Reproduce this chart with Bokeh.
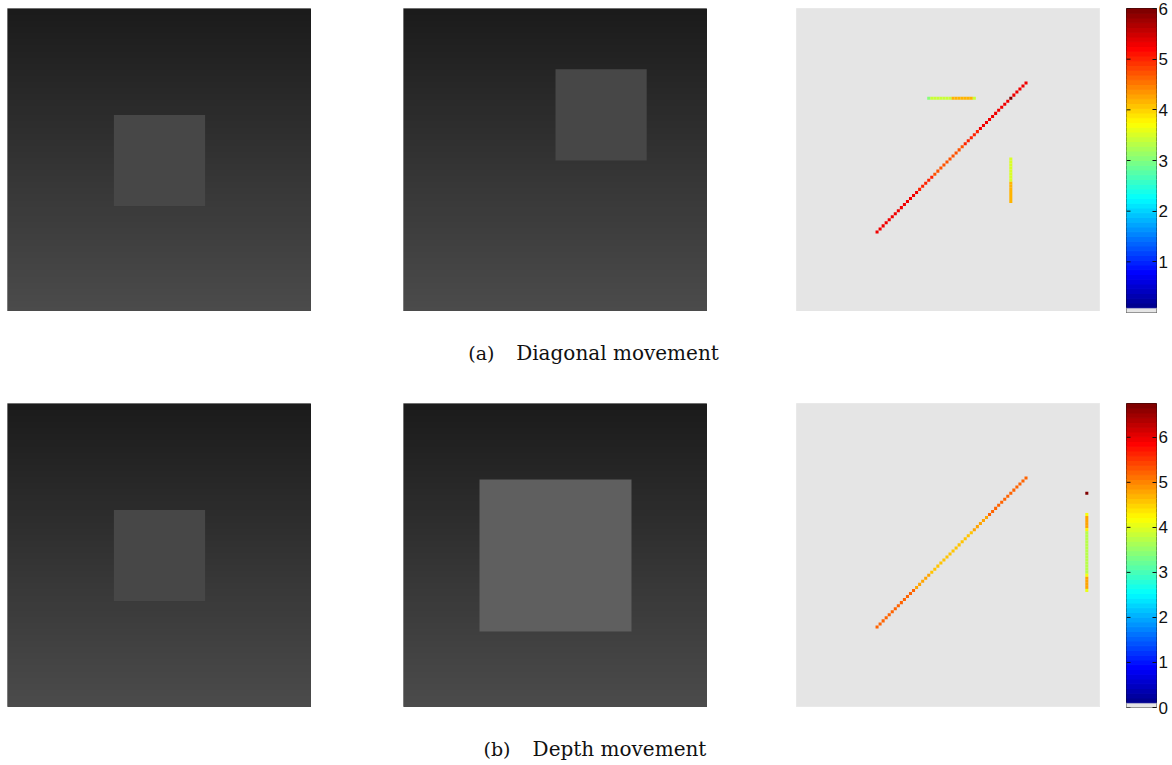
import numpy as np
from bokeh.plotting import figure
from bokeh.layouts import row, column
from bokeh.models import Spacer, Range1d, LinearAxis, FixedTicker, Label, ColumnDataSource
from bokeh.transform import linear_cmap
from bokeh.embed import file_html
from bokeh.resources import INLINE

GRID = 100          # every frame / flow map is GRID x GRID pixels
PANEL = 304         # on-screen size of one frame

# grey level (0-255) of the background ramp, bottom row and top row
BG_BOTTOM = 75
BG_TOP = 27

# moving square of each input frame: left, right, bottom, top (pixel indices)
SQ_A1 = [35, 65, 35, 65]
SQ_A2 = [50, 80, 50, 80]
SQ_B1 = [35, 65, 35, 65]
SQ_B2 = [25, 75, 25, 75]
# grey level of each square
SQ_A1_GREY = 71
SQ_A2_GREY = 71
SQ_B1_GREY = 71
SQ_B2_GREY = 95

# ---- (a) diagonal movement: flow magnitude of the detected pixels ----
A_DIAG_X = [26, 27, 28, 29, 30, 31, 32, 33, 34, 35, 36, 37, 38, 39, 40, 41, 42, 43, 44, 45,
            46, 47, 48, 49, 50, 51, 52, 53, 54, 55, 56, 57, 58, 59, 60, 61, 62, 63, 64, 65,
            66, 67, 68, 69, 70, 71, 72, 73, 74, 75]
A_DIAG_Y = A_DIAG_X
A_DIAG_V = [5.3, 5.3, 5.3, 5.3, 5.3, 5.3, 5.3, 5.3, 5.3, 5.3, 5.3, 5.3, 5.3, 5.3,
            5.0, 5.0, 5.0, 5.0, 5.0,
            4.75, 4.75, 4.75, 4.75, 4.75, 4.75, 4.75, 4.75, 4.75, 4.75,
            5.0, 5.0, 5.0, 5.0, 5.0,
            5.3, 5.3, 5.3, 5.3, 5.3, 5.3, 5.3, 5.3, 5.3, 5.3,
            6.0,
            5.3, 5.3, 5.3, 5.3, 5.3]
A_HORIZ_X = [43, 44, 45, 46, 47, 48, 49, 50, 51, 52, 53, 54, 55, 56, 57, 58]
A_HORIZ_Y = [70, 70, 70, 70, 70, 70, 70, 70, 70, 70, 70, 70, 70, 70, 70, 70]
A_HORIZ_V = [3.0, 3.45, 3.45, 3.45, 3.45, 3.45, 3.45, 3.45,
             4.15, 4.15, 4.15, 4.15, 4.15, 4.15, 4.15, 3.45]
A_VERT_X = [70, 70, 70, 70, 70, 70, 70, 70, 70, 70, 70, 70, 70, 70, 70]
A_VERT_Y = [50, 49, 48, 47, 46, 45, 44, 43, 42, 41, 40, 39, 38, 37, 36]
A_VERT_V = [3.55, 3.55, 3.55, 3.55, 3.55, 3.55, 3.55, 3.55,
            4.15, 4.15, 4.15, 4.15, 4.15, 4.15, 4.15]
A_LOW, A_HIGH = 0.0, 6.0
A_TICKS = [1, 2, 3, 4, 5, 6]

# ---- (b) depth movement ----
B_DIAG_X = A_DIAG_X
B_DIAG_Y = A_DIAG_X
B_DIAG_V = [5.2, 5.2, 5.2, 5.2, 5.2, 5.2, 5.2, 5.2, 5.2, 5.2, 5.2, 5.2, 5.2,
            4.85, 4.85, 4.85, 4.85, 4.85,
            4.6, 4.6, 4.6, 4.6, 4.6, 4.6, 4.6, 4.6, 4.6, 4.6, 4.6, 4.6, 4.6, 4.6,
            4.85, 4.85, 4.85, 4.85, 4.85,
            5.2, 5.2, 5.2, 5.2, 5.2, 5.2, 5.2, 5.2, 5.2, 5.2, 5.2, 5.2, 5.2]
B_SPOT_X = [95]
B_SPOT_Y = [70]
B_SPOT_V = [6.75]
B_VERT_X = [95, 95, 95, 95, 95, 95, 95, 95, 95, 95, 95, 95, 95,
            95, 95, 95, 95, 95, 95, 95, 95, 95, 95, 95, 95, 95]
B_VERT_Y = [63, 62, 61, 60, 59, 58, 57, 56, 55, 54, 53, 52, 51,
            50, 49, 48, 47, 46, 45, 44, 43, 42, 41, 40, 39, 38]
B_VERT_V = [4.2, 4.75, 4.75, 4.75, 4.75, 4.3,
            3.7, 3.7, 3.7, 3.7, 3.7, 3.7, 3.7, 3.7, 3.7, 3.7, 3.7, 3.7, 3.7, 3.7,
            4.2, 4.75, 4.75, 4.75, 4.75, 4.1]
B_LOW, B_HIGH = 0.0, 6.75
B_TICKS = [0, 1, 2, 3, 4, 5, 6]

CAPTION_A = ("(a)", "Diagonal movement")
CAPTION_B = ("(b)", "Depth movement")

SERIF = "DejaVu Serif"
SANS = "Liberation Sans"


def jet(n):
    cols = []
    for i in range(n):
        f = i / (n - 1)
        r = min(max(1.5 - abs(4 * f - 3), 0), 1)
        g = min(max(1.5 - abs(4 * f - 2), 0), 1)
        b = min(max(1.5 - abs(4 * f - 1), 0), 1)
        cols.append("#%02x%02x%02x" % (round(r * 255), round(g * 255), round(b * 255)))
    return cols


# jet colour map whose lowest entry is the light grey of "no flow"
PALETTE = jet(64)
PALETTE[0] = "#e5e5e5"


def base(top, bottom=0):
    p = figure(frame_width=PANEL, frame_height=PANEL,
               x_range=Range1d(0, GRID), y_range=Range1d(0, GRID),
               x_axis_type=None, y_axis_type=None,
               toolbar_location=None, output_backend="svg",
               min_border_left=0, min_border_right=0,
               min_border_top=top, min_border_bottom=bottom)
    return p


def frame(square, grey, top):
    p = base(top)
    ramp = np.linspace(BG_BOTTOM, BG_TOP, GRID).round().astype(np.uint8)
    img = np.zeros((GRID, 1, 4), dtype=np.uint8)
    img[:, 0, 0] = ramp
    img[:, 0, 1] = ramp
    img[:, 0, 2] = ramp
    img[:, 0, 3] = 255
    p.image_rgba(image=[img.view(np.uint32)[:, :, 0]], x=0, y=0, dw=GRID, dh=GRID)
    p.quad(left=[square[0]], right=[square[1]], bottom=[square[2]], top=[square[3]],
           fill_color="#%02x%02x%02x" % (grey, grey, grey), line_color=None)
    p.outline_line_color = "#8c8c8c"
    return p


def flow(segments, low, high, top):
    p = base(top)
    p.background_fill_color = PALETTE[0]
    p.outline_line_color = "#e9e9e9"
    for xs, ys, vs in segments:
        src = ColumnDataSource(dict(x=[c + 0.5 for c in xs], y=[r + 0.5 for r in ys], v=vs))
        p.rect(x="x", y="y", width=1, height=1, source=src, line_color=None,
               fill_color=linear_cmap("v", PALETTE, low, high))
    return p


def colorbar(low, high, ticks, top, bottom):
    p = figure(frame_width=30, frame_height=PANEL,
               x_range=Range1d(0, 1), y_range=Range1d(low, high),
               x_axis_type=None, y_axis_type=None,
               toolbar_location=None, output_backend="svg",
               min_border_left=0, min_border_right=0,
               min_border_top=top, min_border_bottom=bottom)
    edges = np.linspace(low, high, len(PALETTE) + 1)
    p.quad(left=0, right=1, bottom=edges[:-1], top=edges[1:], fill_color=PALETTE,
           line_color=PALETTE, line_width=1)
    ax = LinearAxis(ticker=FixedTicker(ticks=ticks), major_tick_in=4, major_tick_out=0,
                    minor_tick_line_color=None, axis_line_color=None,
                    major_tick_line_color="#111111",
                    major_label_standoff=2, major_label_text_font=SANS,
                    major_label_text_font_size="17px", major_label_text_color="#111111")
    p.add_layout(ax, "right")
    p.segment(x0=0, x1=4 / 30, y0=ticks, y1=ticks, line_color="#111111", line_width=1)
    p.outline_line_color = "#111111"
    return p


def caption(text, height, y_from_bottom, tag_right, title_center):
    p = figure(width=1172, height=height, x_range=Range1d(0, 1172), y_range=Range1d(0, height),
               x_axis_type=None, y_axis_type=None,
               toolbar_location=None, output_backend="svg", min_border=0)
    p.outline_line_color = None
    p.add_layout(Label(x=tag_right, y=y_from_bottom, text=text[0], text_font=SERIF,
                       text_font_size="19px", text_align="right", text_baseline="middle",
                       text_color="#111111"))
    p.add_layout(Label(x=title_center, y=y_from_bottom, text=text[1], text_font=SERIF,
                       text_font_size="20px", text_align="center", text_baseline="middle",
                       text_color="#111111"))
    return p


row_a = row(Spacer(width=7, height=1),
            frame(SQ_A1, SQ_A1_GREY, 7), Spacer(width=92, height=1),
            frame(SQ_A2, SQ_A2_GREY, 7), Spacer(width=89, height=1),
            flow([(A_DIAG_X, A_DIAG_Y, A_DIAG_V), (A_HORIZ_X, A_HORIZ_Y, A_HORIZ_V),
                  (A_VERT_X, A_VERT_Y, A_VERT_V)], A_LOW, A_HIGH, 7),
            Spacer(width=26, height=1),
            colorbar(A_LOW, A_HIGH, A_TICKS, 8, 8))

row_b = row(Spacer(width=7, height=1),
            frame(SQ_B1, SQ_B1_GREY, 7), Spacer(width=92, height=1),
            frame(SQ_B2, SQ_B2_GREY, 7), Spacer(width=89, height=1),
            flow([(B_DIAG_X, B_DIAG_Y, B_DIAG_V), (B_VERT_X, B_VERT_Y, B_VERT_V),
                  (B_SPOT_X, B_SPOT_Y, B_SPOT_V)], B_LOW, B_HIGH, 7),
            Spacer(width=26, height=1),
            colorbar(B_LOW, B_HIGH, B_TICKS, 7, 12))

page = column(row_a,
              caption(CAPTION_A, 76, 44, 494, 617),
              row_b,
              caption(CAPTION_B, 46, 17, 510, 619))

open("out.html", "w").write(file_html(page, INLINE))
